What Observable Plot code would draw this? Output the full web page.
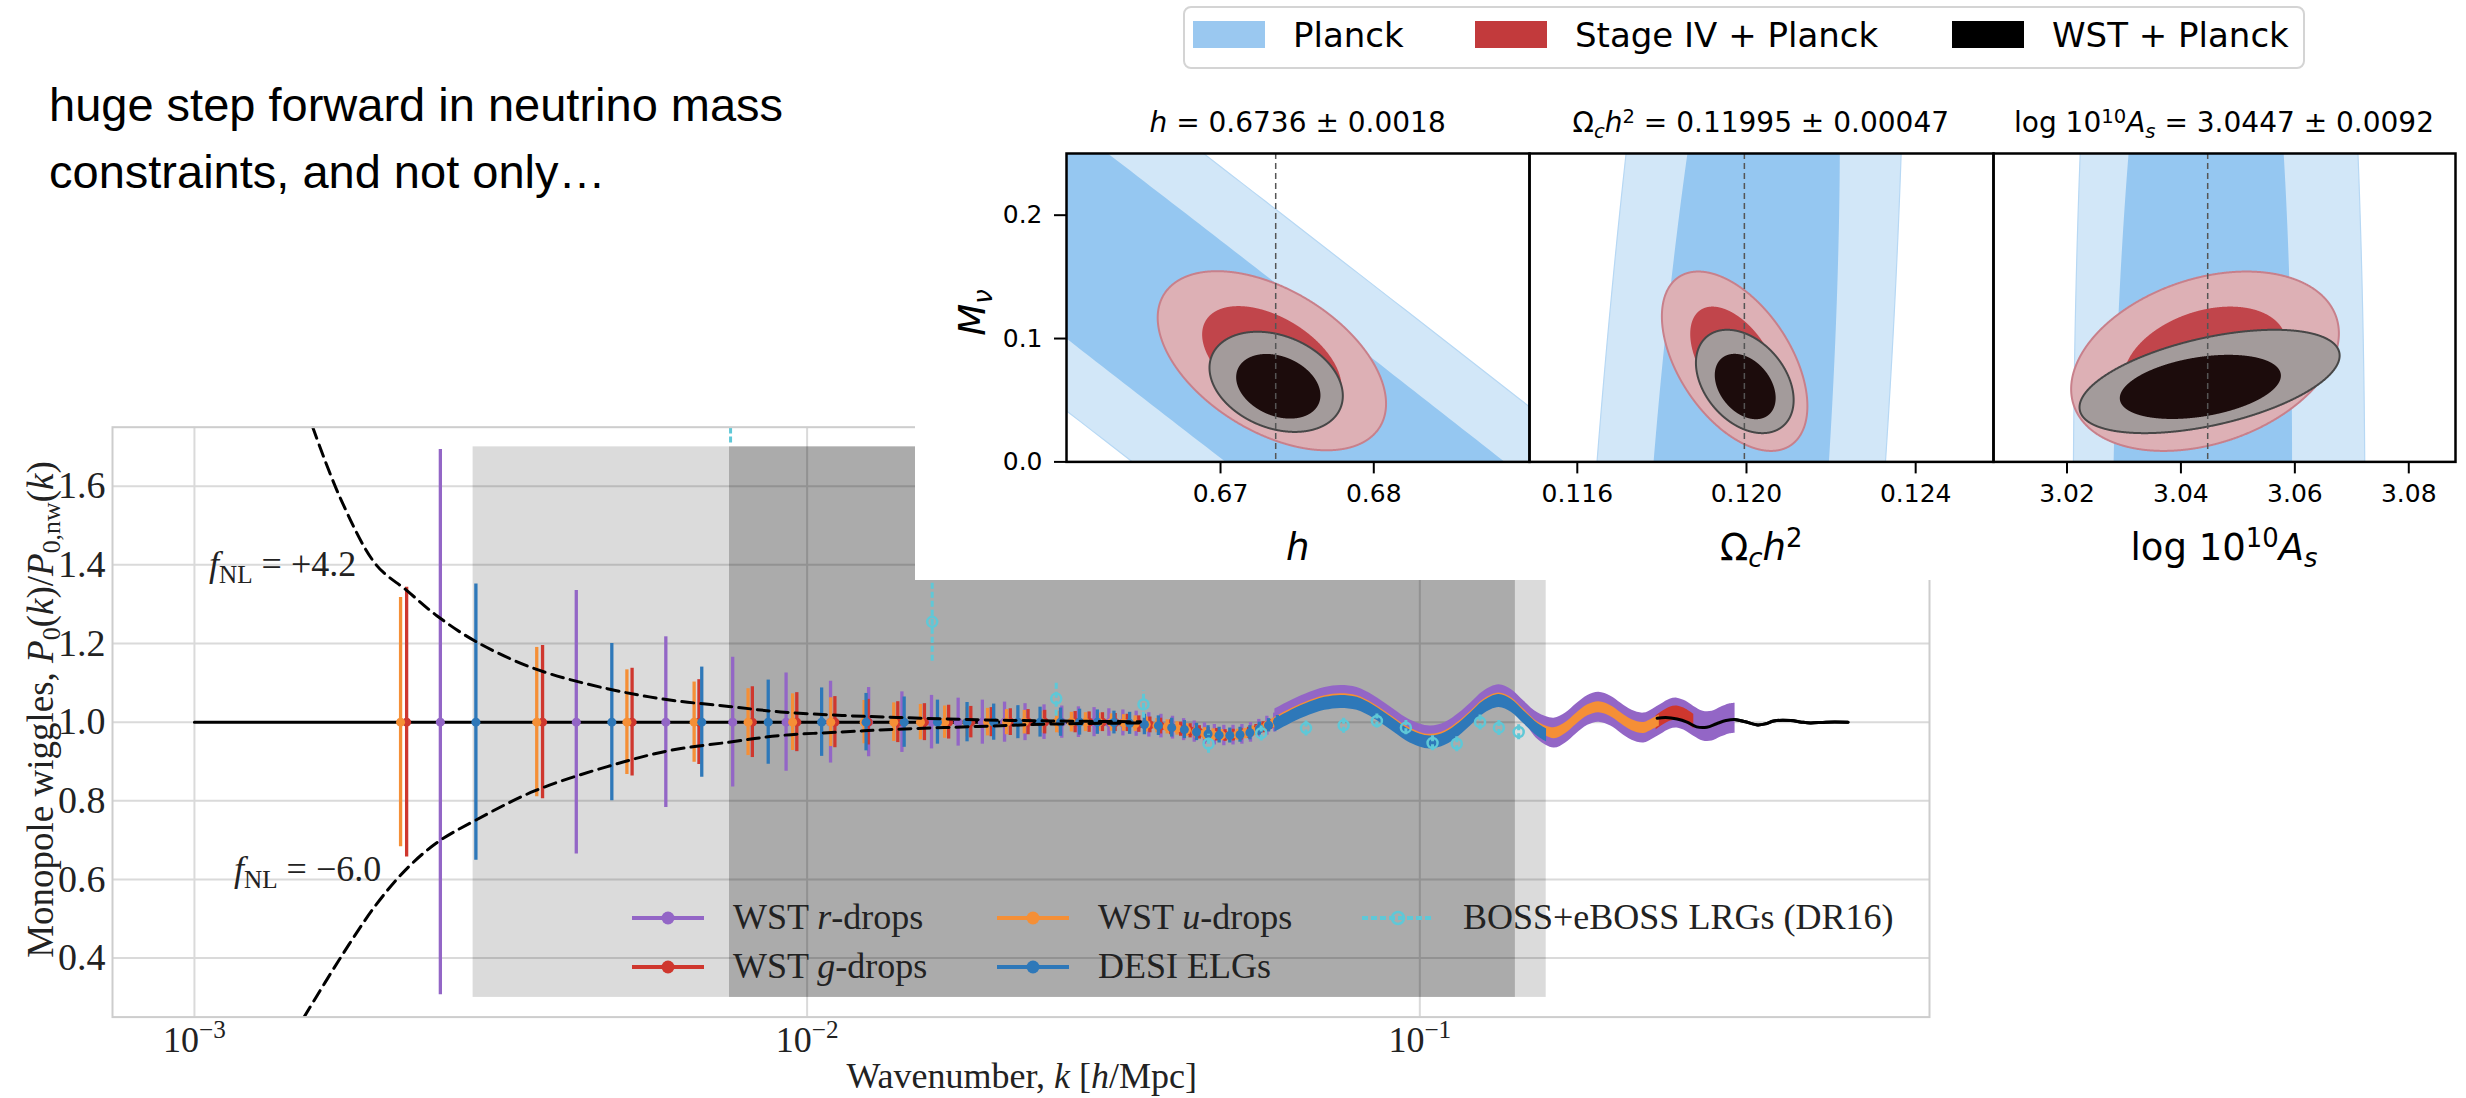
<!DOCTYPE html>
<html><head><meta charset="utf-8">
<script src="https://cdn.jsdelivr.net/npm/d3@7"></script>
<script src="https://cdn.jsdelivr.net/npm/@observablehq/plot@0.6"></script>
<style>
body{margin:0;background:#fff;}
#page{position:relative;width:2466px;height:1098px;overflow:hidden;background:#fff;}
.sup{font-size:0.7em;position:relative;top:-0.5em;line-height:0;}
.sub{font-size:0.7em;position:relative;top:0.28em;line-height:0;}
</style></head>
<body><div id="page"></div>
<script>
// ---------------- DATA ----------------
// Monopole wiggles chart
const kDomain = [7.35e-4, 0.679];
const wiggleDomain = [0.25, 1.75];
const kTicks = [1e-3, 1e-2, 1e-1];
const kTickExponents = ["\u22123", "\u22122", "\u22121"];
const wiggleTicks = [0.4, 0.6, 0.8, 1.0, 1.2, 1.4, 1.6];
const shadeLightK = [0.00285, 0.1608];
const shadeDarkK = [0.00747, 0.1432];
const shadeY = [0.3, 1.7];

// theory wiggle line [k, P0/P0nw]
const theory = [[0.001,1.0],[0.01,1.0],[0.02,1.0],[0.03,1.0],[0.033,0.998],[0.036,0.994],[0.04,0.985],[0.043,0.975],[0.046,0.968],[0.049,0.966],[0.052,0.972],[0.055,0.985],[0.058,1.0],[0.061,1.018],[0.065,1.038],[0.07,1.055],[0.0743,1.06],[0.079,1.055],[0.084,1.035],[0.0897,1.005],[0.095,0.978],[0.1,0.962],[0.1043,0.957],[0.11,0.966],[0.116,0.99],[0.121,1.015],[0.127,1.045],[0.1346,1.062],[0.141,1.05],[0.148,1.02],[0.156,0.988],[0.1656,0.965],[0.173,0.978],[0.18,1.0],[0.188,1.022],[0.196,1.03],[0.205,1.022],[0.213,1.005],[0.222,0.99],[0.232,0.985],[0.244,1.01],[0.252,1.012],[0.263,1.008],[0.273,1.0],[0.283,0.988],[0.294,0.987],[0.305,0.996],[0.316,1.004],[0.326,1.007],[0.34,1.001],[0.356,0.993],[0.367,0.996],[0.378,1.003],[0.403,1.004],[0.42,1.0],[0.434,0.998],[0.46,1.0],[0.5,1.0]];
const fnlUpper = [[0.00156,1.75],[0.00173,1.57],[0.00198,1.40],[0.00222,1.335],[0.00249,1.27],[0.00288,1.205],[0.00359,1.136],[0.00472,1.085],[0.00593,1.057],[0.00745,1.040],[0.00905,1.026],[0.0114,1.017],[0.014,1.012],[0.019,1.006],[0.025,1.003],[0.035,1.001]];
const fnlLower = [[0.00151,0.25],[0.00173,0.40],[0.00198,0.536],[0.00222,0.627],[0.00249,0.694],[0.00288,0.751],[0.00359,0.825],[0.00472,0.887],[0.00593,0.927],[0.00745,0.949],[0.00905,0.966],[0.0114,0.975],[0.014,0.982],[0.019,0.989],[0.025,0.995],[0.035,0.998]];
const fnlLabels = ["+4.2", "\u22126.0"];

// error bars [k, value, half-error]
const rDrops = [[0.00252,1.0,0.693],[0.0042,1.0,0.335],[0.00588,1.0,0.217],[0.00756,1.0,0.165],[0.00924,1.0,0.125],[0.01092,1.0,0.104],[0.0126,1.0,0.088],[0.01428,1.0,0.077],[0.01596,1.0,0.068],[0.01764,1.0,0.061],[0.01932,1.0,0.056],[0.021,1.0,0.051],[0.02268,1.0,0.047],[0.02436,1.0,0.044],[0.02604,1.0,0.041],[0.02772,1.0,0.039],[0.0294,1.0,0.037],[0.03108,0.999,0.035],[0.03276,0.998,0.033],[0.03444,0.996,0.032],[0.03612,0.993,0.031],[0.0378,0.990,0.030],[0.03948,0.986,0.029],[0.04116,0.981,0.028],[0.04284,0.976,0.027],[0.04452,0.971,0.027],[0.0462,0.968,0.026],[0.04788,0.966,0.026],[0.04956,0.967,0.025],[0.05124,0.969,0.025],[0.05292,0.974,0.025],[0.0546,0.983,0.024],[0.05628,0.991,0.024],[0.05796,0.999,0.024]];
const gDrops = [[0.00222,1.0,0.343],[0.0037,1.0,0.195],[0.00518,1.0,0.137],[0.00666,1.0,0.108],[0.00814,1.0,0.090],[0.00962,1.0,0.075],[0.0111,1.0,0.065],[0.01258,1.0,0.058],[0.01406,1.0,0.052],[0.01554,1.0,0.047],[0.01702,1.0,0.043],[0.0185,1.0,0.040],[0.01998,1.0,0.037],[0.02146,1.0,0.034],[0.02294,1.0,0.032],[0.02442,1.0,0.030],[0.0259,1.0,0.028],[0.02738,1.0,0.027],[0.02886,1.0,0.026],[0.03034,1.0,0.024],[0.03182,0.999,0.023],[0.0333,0.998,0.022],[0.03478,0.995,0.021],[0.03626,0.993,0.020],[0.03774,0.990,0.020],[0.03922,0.987,0.019],[0.0407,0.982,0.018],[0.04218,0.978,0.018],[0.04366,0.974,0.017],[0.04514,0.970,0.016],[0.04662,0.968,0.016],[0.0481,0.966,0.015],[0.04958,0.967,0.015],[0.05106,0.969,0.015],[0.05254,0.973,0.014],[0.05402,0.980,0.014],[0.0555,0.987,0.014],[0.05698,0.994,0.013],[0.05846,1.001,0.013]];
const uDrops = [[0.00217,1.0,0.317],[0.00362,1.0,0.19],[0.00508,1.0,0.133],[0.00654,1.0,0.102],[0.00801,1.0,0.085],[0.00947,1.0,0.072],[0.01093,1.0,0.062],[0.01239,1.0,0.055],[0.01385,1.0,0.049],[0.01531,1.0,0.045],[0.01677,1.0,0.041],[0.01823,1.0,0.038],[0.0197,1.0,0.035],[0.02116,1.0,0.032],[0.02262,1.0,0.030],[0.02408,1.0,0.028],[0.02554,1.0,0.027],[0.027,1.0,0.025],[0.02846,1.0,0.024],[0.02992,1.0,0.023],[0.03138,0.999,0.022],[0.03285,0.998,0.021],[0.03431,0.996,0.020],[0.03577,0.994,0.019],[0.03723,0.991,0.018],[0.0387,0.988,0.018],[0.04016,0.984,0.017],[0.04162,0.980,0.016],[0.04308,0.975,0.016],[0.04454,0.971,0.015],[0.046,0.968,0.015],[0.04746,0.967,0.014],[0.04892,0.966,0.014],[0.05038,0.968,0.014],[0.05184,0.971,0.013],[0.0533,0.977,0.013],[0.05476,0.984,0.013],[0.05622,0.990,0.012],[0.05768,0.998,0.012]];
const desiELG = [[0.00288,1.0,0.351],[0.0048,1.0,0.200],[0.00673,1.0,0.140],[0.00864,1.0,0.107],[0.01056,1.0,0.087],[0.01248,1.0,0.073],[0.0144,1.0,0.064],[0.01632,1.0,0.056],[0.01824,1.0,0.050],[0.02016,1.0,0.046],[0.02208,1.0,0.042],[0.024,1.0,0.038],[0.02592,1.0,0.036],[0.02784,1.0,0.033],[0.02976,1.0,0.031],[0.03168,0.999,0.029],[0.0336,0.997,0.028],[0.03552,0.994,0.026],[0.03744,0.991,0.025],[0.03936,0.986,0.024],[0.04128,0.981,0.023],[0.0432,0.975,0.022],[0.04512,0.970,0.021],[0.04704,0.967,0.020],[0.04896,0.966,0.019],[0.05088,0.968,0.019],[0.0528,0.973,0.018],[0.05472,0.983,0.017],[0.05664,0.992,0.017],[0.05856,1.001,0.016]];

// dense high-k error envelopes [k, low, high]
const rDropsBand = [[0.058,0.980,1.033],[0.061,0.998,1.051],[0.065,1.018,1.071],[0.070,1.035,1.088],[0.0743,1.040,1.093],[0.079,1.035,1.088],[0.084,1.015,1.068],[0.0897,0.985,1.038],[0.095,0.958,1.011],[0.100,0.942,0.995],[0.1043,0.937,0.990],[0.110,0.946,0.999],[0.116,0.970,1.023],[0.121,0.995,1.048],[0.127,1.025,1.078],[0.1346,1.042,1.095],[0.141,1.030,1.083],[0.148,1.000,1.053],[0.156,0.955,1.023],[0.1656,0.934,1.010],[0.173,0.947,1.023],[0.180,0.970,1.046],[0.188,0.992,1.068],[0.196,1.000,1.076],[0.205,0.990,1.066],[0.213,0.972,1.048],[0.222,0.954,1.030],[0.232,0.947,1.023],[0.240,0.957,1.033],[0.248,0.970,1.046],[0.256,0.982,1.058],[0.263,0.985,1.061],[0.272,0.977,1.053],[0.280,0.964,1.040],[0.290,0.952,1.028],[0.300,0.952,1.028],[0.310,0.962,1.038],[0.320,0.970,1.046],[0.327,0.972,1.048]];
const gDropsBand = [[0.243,0.980,1.016],[0.248,0.990,1.026],[0.256,1.002,1.038],[0.263,1.005,1.041],[0.272,0.997,1.033],[0.280,0.984,1.020]];
const uDropsBand = [[0.058,0.990,1.012],[0.061,1.008,1.030],[0.065,1.028,1.050],[0.070,1.045,1.067],[0.0743,1.050,1.072],[0.079,1.045,1.067],[0.084,1.025,1.047],[0.0897,0.995,1.017],[0.095,0.968,0.990],[0.100,0.952,0.974],[0.1043,0.947,0.969],[0.110,0.956,0.978],[0.116,0.980,1.002],[0.121,1.005,1.027],[0.127,1.035,1.057],[0.1346,1.052,1.074],[0.141,1.040,1.062],[0.148,1.010,1.032],[0.156,0.978,1.000],[0.1656,0.958,0.986],[0.173,0.971,0.999],[0.180,0.994,1.022],[0.188,1.016,1.044],[0.196,1.024,1.052],[0.205,1.014,1.042],[0.213,0.996,1.024],[0.222,0.978,1.006],[0.232,0.971,0.999],[0.240,0.981,1.009],[0.246,0.990,1.018]];
const desiBand = [[0.058,0.975,1.008],[0.061,0.993,1.026],[0.065,1.013,1.046],[0.070,1.030,1.063],[0.0743,1.035,1.068],[0.079,1.030,1.063],[0.084,1.010,1.043],[0.0897,0.980,1.013],[0.095,0.953,0.986],[0.100,0.937,0.970],[0.1043,0.932,0.965],[0.110,0.941,0.974],[0.116,0.965,0.998],[0.121,0.990,1.023],[0.127,1.020,1.053],[0.1346,1.037,1.070],[0.141,1.025,1.058],[0.148,0.995,1.028],[0.156,0.963,0.996],[0.161,0.950,0.983]];

// BOSS+eBOSS LRGs (DR16)
const bossK = [0.0075,0.0160,0.0255,0.0354,0.0452,0.0551,0.0652,0.0751,0.0851,0.0949,0.1049,0.1149,0.1254,0.1346,0.1450];
const bossV = [2.60,1.255,1.060,1.045,0.945,0.972,0.985,0.992,1.003,0.986,0.947,0.945,1.000,0.986,0.975];
const bossE = [0.89,0.100,0.045,0.035,0.024,0.020,0.020,0.020,0.018,0.018,0.020,0.020,0.020,0.020,0.020];

const seriesNames = ["WST <i>r</i>-drops","WST <i>g</i>-drops","WST <i>u</i>-drops","DESI ELGs","BOSS+eBOSS LRGs (DR16)"];

// Neutrino-mass triangle panels
const headline = ["huge step forward in neutrino mass", "constraints, and not only\u2026"];
const legendNames = ["Planck", "Stage IV + Planck", "WST + Planck"];
const panelTitles = ["<i>h</i> = 0.6736 \u00b1 0.0018", "\u03a9<span class='sub'><i>c</i></span><i>h</i><span class='sup'>2</span> = 0.11995 \u00b1 0.00047", "log 10<span class='sup'>10</span><i>A</i><span class='sub'><i>s</i></span> = 3.0447 \u00b1 0.0092"];
const panelLabels = ["<i>h</i>", "\u03a9<span class='sub'><i>c</i></span><i>h</i><span class='sup'>2</span>", "log 10<span class='sup'>10</span><i>A</i><span class='sub'><i>s</i></span>"];
const panelCentral = [0.6736, 0.11995, 3.0447];
const panelDomains = [[0.65995, 0.69016], [0.11487, 0.12584], [3.0071, 3.0882]];
const panelTicks = [[0.67, 0.68], [0.116, 0.120, 0.124], [3.02, 3.04, 3.06, 3.08]];
const panelTickFormats = [".2f", ".3f", ".2f"];
const mnuDomain = [0, 0.25];
const mnuTicks = [0.0, 0.1, 0.2];
// Gaussian contours: [centre x, centre Mnu, x half-extent, Mnu half-extent, correlation]
const planckOuter = [[0.66917,0.1,0.1732,1.67,-0.9961],[0.11977,-0.05,0.0040,0.984,0.521],[3.0467,-0.05,0.0256,0.984,0.0]];
const planckInner = [[0.6691,0.1,0.1037,1.0,-0.9961],[0.11977,-0.05,0.002437,0.6,0.521],[3.04373,-0.05,0.01578,0.6,0.0881]];
const stage4Outer = [[0.67335,0.082,0.00745,0.0726,-0.48],[0.11972,0.0816,0.00172,0.0727,-0.5],[3.04423,0.0816,0.0235,0.0727,0.31]];
const stage4Inner = [[0.67335,0.082,0.00455,0.0443,-0.48],[0.11972,0.0816,0.00105,0.0443,-0.5],[3.04423,0.0816,0.0143,0.0443,0.31]];
const wstOuter = [[0.67363,0.0649,0.00435,0.0406,-0.28],[0.11996,0.0652,0.001155,0.0419,-0.36],[3.04503,0.0652,0.02283,0.0419,0.5]];
const wstInner = [[0.67377,0.0613,0.00275,0.0262,-0.28],[0.11997,0.0611,0.00072,0.0265,-0.35],[3.04341,0.0608,0.01414,0.026,0.35]];

// ---------------- STYLE / LAYOUT ----------------
const COL = {purple:"#9366c6", red:"#cf372e", orange:"#f58f36", blue:"#2e78b9", cyan:"#5fc8d7",
  planckLight:"#d2e7f8", planckDark:"#95c7f1", s4Outer:"#ddb0b5", s4Inner:"#c1454b", wstOuter:"#a39b9b", wstInner:"#1c0c0c",
  legPlanck:"#9ac8f0", legS4:"#c23a3c", legWST:"#000000"};
const page = document.getElementById("page");

function addText(html, o) {
  const d = document.createElement("div");
  d.innerHTML = html;
  Object.assign(d.style, {position:"absolute", whiteSpace:"nowrap", fontFamily:o.family, fontSize:o.size+"px",
    lineHeight:o.size+"px", color:o.color||"#000", zIndex:o.z||6});
  if (o.weight) d.style.fontWeight = o.weight;
  page.appendChild(d);
  const w = d.offsetWidth, h = d.offsetHeight;
  if (o.rotate) {
    d.style.left = (o.cx - w/2) + "px";
    d.style.top = (o.cy - h/2) + "px";
    d.style.transform = `rotate(${o.rotate}deg)`;
  } else {
    const a = o.anchor || "start";
    d.style.left = (a === "middle" ? o.x - w/2 : a === "end" ? o.x - w : o.x) + "px";
    d.style.top = (o.baseline - 0.845*o.size) + "px";
  }
  return d;
}
function placeEl(el, left, top, z) {
  el.style.position = "absolute"; el.style.left = left+"px"; el.style.top = top+"px"; el.style.zIndex = z;
  page.appendChild(el);
}

// ---------------- BOTTOM CHART ----------------
const FR = {left:112, right:1929, top:426.7, bottom:1016.6};
const W1 = 1960, H1 = 1098;
const kx = d => d[0];
const bars = (data, color) => [
  Plot.ruleX(data, {x:kx, y1:d=>d[1]-d[2], y2:d=>d[1]+d[2], stroke:color, strokeWidth:3.3, clip:true}),
  Plot.dot(data, {x:kx, y:d=>d[1], r:4.5, fill:color, stroke:"none", clip:true})
];
const band = (data, color) => Plot.areaY(data, {x:kx, y1:d=>d[1], y2:d=>d[2], fill:color, curve:"catmull-rom", clip:true});
const bossData = bossK.map((k,i) => [k, bossV[i], bossE[i]]);

const chart = Plot.plot({
  width:W1, height:H1,
  marginLeft:FR.left, marginRight:W1-FR.right, marginTop:FR.top, marginBottom:H1-FR.bottom,
  x:{type:"log", domain:kDomain},
  y:{domain:wiggleDomain},
  style:{fontFamily:"Liberation Serif", fontSize:"38px", background:"transparent", color:"#222", overflow:"visible"},
  marks:[
    Plot.gridY(wiggleTicks, {stroke:"#dadada", strokeOpacity:1, strokeWidth:2}),
    Plot.gridX(kTicks, {stroke:"#dadada", strokeOpacity:1, strokeWidth:2}),
    Plot.rect([0], {x1:()=>shadeLightK[0], x2:()=>shadeLightK[1], y1:()=>shadeY[0], y2:()=>shadeY[1], fill:"black", fillOpacity:0.14}),
    Plot.rect([0], {x1:()=>shadeDarkK[0], x2:()=>shadeDarkK[1], y1:()=>shadeY[0], y2:()=>shadeY[1], fill:"black", fillOpacity:0.22}),
    Plot.line(theory, {x:kx, y:d=>d[1], stroke:"black", strokeWidth:3, curve:"catmull-rom"}),
    ...bars(rDrops, COL.purple), band(rDropsBand, COL.purple),
    ...bars(gDrops, COL.red), band(gDropsBand, COL.red),
    ...bars(uDrops, COL.orange), band(uDropsBand, COL.orange),
    ...bars(desiELG, COL.blue), band(desiBand, COL.blue),
    Plot.ruleX(bossData, {x:kx, y1:d=>d[1]-d[2], y2:d=>d[1]+d[2], stroke:COL.cyan, strokeWidth:3, strokeDasharray:"6,3", clip:true}),
    Plot.dot(bossData, {x:kx, y:d=>d[1], r:5, stroke:COL.cyan, strokeWidth:2.5, fill:"none", clip:true}),
    Plot.line(theory.filter(d => d[0] >= 0.24), {x:kx, y:d=>d[1], stroke:"black", strokeWidth:3, curve:"catmull-rom"}),
    Plot.line(fnlUpper, {x:kx, y:d=>d[1], stroke:"black", strokeWidth:3, strokeDasharray:"12,7", curve:"catmull-rom", clip:true}),
    Plot.line(fnlLower, {x:kx, y:d=>d[1], stroke:"black", strokeWidth:3, strokeDasharray:"12,7", curve:"catmull-rom", clip:true}),
    Plot.frame({stroke:"#cdcdcd", strokeWidth:2}),
    Plot.axisY({ticks:wiggleTicks, tickSize:0, tickPadding:7, tickFormat:d3.format(".1f"), fontSize:38, label:null}),
    Plot.axisX({ticks:kTicks, tickSize:0, tickPadding:9, tickFormat:()=>"10", fontSize:36, label:null})
  ]
});
placeEl(chart, 0, 0, 1);
chart.querySelectorAll('g[aria-label="x-axis tick label"] text').forEach((t, i) => {
  t.innerHTML = `10<tspan dy="-0.55em" font-size="0.7em">${kTickExponents[i]}</tspan>`;
});

// bottom chart texts
addText("Monopole wiggles, <i>P</i><span class='sub'>0</span>(<i>k</i>)/<i>P</i><span class='sub'>0,nw</span>(<i>k</i>)",
  {cx:40, cy:709, rotate:-90, size:37, family:"Liberation Serif", color:"#222"});
addText("Wavenumber, <i>k</i> [<i>h</i>/Mpc]", {x:1022, baseline:1088, anchor:"middle", size:36, family:"Liberation Serif", color:"#222"});
addText(`<i>f</i><span class='sub'>NL</span> = ${fnlLabels[0]}`, {x:209, baseline:576, size:36, family:"Liberation Serif", color:"#222"});
addText(`<i>f</i><span class='sub'>NL</span> = ${fnlLabels[1]}`, {x:234, baseline:881, size:36, family:"Liberation Serif", color:"#222"});

// bottom legend
const legColors = [COL.purple, COL.red, COL.orange, COL.blue, COL.cyan];
const legSlots = [[632,917.7],[632,966.7],[997,917.7],[997,966.7],[1362,917.7]];
seriesNames.forEach((name, i) => {
  const [lx, ly] = legSlots[i];
  const dashed = i === 4;
  const s = document.createElementNS("http://www.w3.org/2000/svg", "svg");
  s.setAttribute("width", 72); s.setAttribute("height", 20);
  s.innerHTML = `<line x1="0" y1="10" x2="72" y2="10" stroke="${legColors[i]}" stroke-width="4" ${dashed ? 'stroke-dasharray="6,3"' : ''}/>` +
    (dashed ? `<circle cx="36" cy="10" r="6" fill="none" stroke="${legColors[i]}" stroke-width="2.5"/>` : `<circle cx="36" cy="10" r="6.5" fill="${legColors[i]}"/>`);
  placeEl(s, lx, ly - 10, 6);
  addText(name, {x:lx + 101, baseline:ly + 12, size:36, family:"Liberation Serif", color:"#222"});
});

// headline
addText(headline[0], {x:49, baseline:121, size:47, family:"Liberation Sans"});
addText(headline[1], {x:49, baseline:188, size:47, family:"Liberation Sans"});

// ---------------- TRIANGLE PANELS ----------------
const overlay = document.createElement("div");
overlay.style.width = (2466-915)+"px"; overlay.style.height = "580px"; overlay.style.background = "#fff";
placeEl(overlay, 915, 0, 2);

function ellipsePts([cx, cy, ax, ay, rho]) {
  const s = Math.sqrt(1 - rho*rho);
  return d3.range(0, 1441).map(i => {
    const t = i * Math.PI / 720;
    return {x: cx + ax*Math.cos(t), y: cy + ay*(rho*Math.cos(t) + s*Math.sin(t))};
  });
}
const PANEL_X = [[1066,1529],[1529,1993],[1993,2455]];
const PANEL_Y = [153.3, 461.7];
PANEL_X.forEach(([x0, x1], i) => {
  const mL = i === 0 ? 100 : 5, mR = 5, mT = 5, mB = 80;
  const fw = x1 - x0, fh = PANEL_Y[1] - PANEL_Y[0];
  const ell = (p, o) => Plot.line(ellipsePts(p), {x:"x", y:"y", clip:true, curve:"linear", ...o});
  const marks = [
    ell(planckOuter[i], {fill:COL.planckLight, stroke:"#b7d8f4", strokeWidth:1.2}),
    ell(planckInner[i], {fill:COL.planckDark, stroke:"none"}),
    ell(stage4Outer[i], {fill:COL.s4Outer, stroke:"#c8808b", strokeWidth:2}),
    ell(stage4Inner[i], {fill:COL.s4Inner, stroke:"none"}),
    ell(wstOuter[i], {fill:COL.wstOuter, stroke:"#474747", strokeWidth:2}),
    ell(wstInner[i], {fill:COL.wstInner, stroke:"none"}),
    Plot.ruleX([panelCentral[i]], {stroke:"#555", strokeDasharray:"6,4", strokeWidth:1.5}),
    Plot.axisX({ticks:panelTicks[i], tickSize:12, tickPadding:10, strokeWidth:2, tickFormat:d3.format(panelTickFormats[i]), fontSize:25, label:null})
  ];
  if (i === 0) marks.push(Plot.axisY({ticks:mnuTicks, tickSize:12, tickPadding:12, strokeWidth:2, tickFormat:d3.format(".1f"), fontSize:25, label:null}));
  marks.push(Plot.frame({stroke:"black", strokeWidth:2.5}));
  const p = Plot.plot({
    width:mL+fw+mR, height:mT+fh+mB, marginLeft:mL, marginRight:mR, marginTop:mT, marginBottom:mB,
    x:{domain:panelDomains[i]}, y:{domain:mnuDomain, axis: i === 0 ? undefined : null},
    style:{fontFamily:"DejaVu Sans", fontSize:"25px", background:"transparent", color:"#000", overflow:"visible"},
    marks
  });
  placeEl(p, x0 - mL, PANEL_Y[0] - mT, 3);
  const cx = (x0 + x1) / 2;
  addText(panelTitles[i], {x:cx, baseline:133, anchor:"middle", size:28, family:"DejaVu Sans"});
  addText(panelLabels[i], {x:cx, baseline:560, anchor:"middle", size:37, family:"DejaVu Sans"});
});
addText("<i>M</i><span class='sub'><i>\u03bd</i></span>", {cx:972, cy:312, rotate:-90, size:37, family:"DejaVu Sans"});

// top legend
const box = document.createElement("div");
Object.assign(box.style, {width:"1122px", height:"63px", boxSizing:"border-box", border:"2px solid #d4d4d4", borderRadius:"8px", background:"#fff"});
placeEl(box, 1183, 6, 4);
const legPatchColors = [COL.legPlanck, COL.legS4, COL.legWST];
const legPatchX = [1193, 1475, 1952];
legendNames.forEach((n, i) => {
  const pch = document.createElement("div");
  Object.assign(pch.style, {width:"72px", height:"27px", background:legPatchColors[i]});
  placeEl(pch, legPatchX[i], 21, 5);
  addText(n, {x:legPatchX[i] + 100, baseline:46.7, size:34, family:"DejaVu Sans"});
});
</script></body></html>
